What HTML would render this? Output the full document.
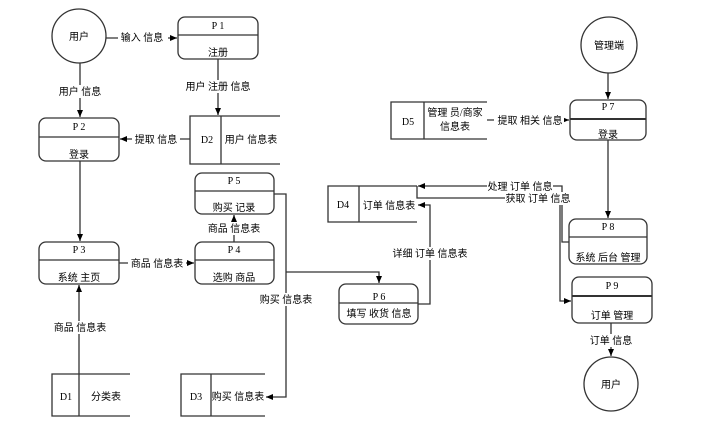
<!DOCTYPE html>
<html><head><meta charset="utf-8"><style>
body{margin:0;background:#fff}
svg text{font-family:"Liberation Serif","Noto Sans CJK SC",serif;font-size:10px;fill:#000}
</style></head><body>
<svg width="719" height="424" viewBox="0 0 719 424" xmlns="http://www.w3.org/2000/svg">
<defs><marker id="a" markerWidth="8" markerHeight="8" refX="7" refY="4" orient="auto" markerUnits="userSpaceOnUse"><path d="M0,1 L7,4 L0,7z" fill="#000"/></marker></defs>
<g fill="none" stroke="#333" stroke-width="1.3">
<circle cx="79" cy="36" r="27"/>
<circle cx="609" cy="45" r="28"/>
<circle cx="611" cy="384" r="27"/>
<!-- processes -->
<rect x="178" y="17" width="80" height="42" rx="7"/><line x1="178" y1="35" x2="258" y2="35"/>
<rect x="39" y="118" width="80" height="43" rx="7"/><line x1="39" y1="137" x2="119" y2="137"/>
<rect x="195" y="173" width="79" height="41" rx="7"/><line x1="195" y1="191" x2="274" y2="191"/>
<rect x="195" y="242" width="79" height="42" rx="7"/><line x1="195" y1="260" x2="274" y2="260"/>
<rect x="39" y="242" width="80" height="42" rx="7"/><line x1="39" y1="260" x2="119" y2="260"/>
<rect x="339" y="284" width="79" height="40" rx="7"/><line x1="339" y1="303" x2="418" y2="303"/>
<rect x="570" y="100" width="76" height="40" rx="7"/><line x1="570" y1="119" x2="646" y2="119" stroke-width="2"/>
<rect x="569" y="219" width="78" height="45" rx="7"/><line x1="569" y1="237" x2="647" y2="237"/>
<rect x="572" y="277" width="80" height="46" rx="7"/><line x1="572" y1="296" x2="652" y2="296" stroke-width="2"/>
<!-- stores -->
<path d="M280,116 H190 V164 H280 M221,116 V164"/>
<path d="M130,374 H52 V416 H130 M79,374 V416"/>
<path d="M265,374 H181 V416 H265 M211,374 V416"/>
<path d="M417,186 H328 V222 H417 M359,186 V222"/>
<path d="M487,102 H391 V139 H487 M424,102 V139"/>
<!-- flows -->
<line x1="106" y1="38" x2="177" y2="38" marker-end="url(#a)"/>
<line x1="80" y1="63" x2="80" y2="117" marker-end="url(#a)"/>
<line x1="218" y1="59" x2="218" y2="115" marker-end="url(#a)"/>
<line x1="190" y1="139" x2="120" y2="139" marker-end="url(#a)"/>
<line x1="80" y1="161" x2="80" y2="241" marker-end="url(#a)"/>
<line x1="119" y1="263" x2="194" y2="263" marker-end="url(#a)"/>
<line x1="234" y1="242" x2="234" y2="215" marker-end="url(#a)"/>
<line x1="79" y1="374" x2="79" y2="285" marker-end="url(#a)"/>
<path d="M274,194 H286 V397 H266" marker-end="url(#a)"/>
<path d="M286,272 H379 V283" marker-end="url(#a)"/>
<path d="M418,304 H430 V205 H418" marker-end="url(#a)"/>
<line x1="487" y1="120" x2="569" y2="120" marker-end="url(#a)"/>
<line x1="608" y1="73" x2="608" y2="99" marker-end="url(#a)"/>
<line x1="608" y1="140" x2="608" y2="218" marker-end="url(#a)"/>
<path d="M569,242 H562 V186 H418" marker-end="url(#a)"/>
<path d="M417,186 V198 H560 V301 H571" marker-end="url(#a)"/>
<line x1="611" y1="323" x2="611" y2="356" marker-end="url(#a)"/>
</g>
<g text-anchor="middle">
<text x="79" y="40" fill="#000">用户</text>
<text x="609" y="49">管理端</text>
<text x="611" y="388">用户</text>
<text x="218" y="29">P 1</text><text x="218" y="56">注册</text>
<text x="79" y="130">P 2</text><text x="79" y="158">登录</text>
<text x="234" y="184">P 5</text><text x="234" y="211">购买 记录</text>
<text x="234" y="253">P 4</text><text x="234" y="281">选购 商品</text>
<text x="79" y="253">P 3</text><text x="79" y="281">系统 主页</text>
<text x="379" y="300">P 6</text><text x="379" y="317">填写 收货 信息</text>
<text x="608" y="110">P 7</text><text x="608" y="138">登录</text>
<text x="608" y="230">P 8</text><text x="608" y="261">系统 后台 管理</text>
<text x="612" y="289">P 9</text><text x="612" y="319">订单 管理</text>
<text x="207" y="143">D2</text><text x="251" y="143">用户 信息表</text>
<text x="66" y="400">D1</text><text x="106" y="400">分类表</text>
<text x="196" y="400">D3</text><text x="238" y="400">购买 信息表</text>
<text x="343" y="208">D4</text><text x="389" y="209">订单 信息表</text>
<text x="408" y="125">D5</text><text x="455" y="116">管理 员/商家</text><text x="455" y="130">信息表</text>
</g>
<g text-anchor="middle">
<rect x="118" y="31" width="50" height="13" fill="#fff"/><text x="142" y="41">输入 信息</text>
<rect x="56" y="85" width="48" height="13" fill="#fff"/><text x="80" y="95">用户 信息</text>
<rect x="185" y="80" width="66" height="13" fill="#fff"/><text x="218" y="90">用户 注册 信息</text>
<rect x="132" y="133" width="48" height="13" fill="#fff"/><text x="156" y="143">提取 信息</text>
<rect x="128" y="257" width="58" height="13" fill="#fff"/><text x="157" y="267">商品 信息表</text>
<rect x="206" y="222" width="56" height="13" fill="#fff"/><text x="234" y="232">商品 信息表</text>
<rect x="52" y="321" width="56" height="13" fill="#fff"/><text x="80" y="331">商品 信息表</text>
<rect x="258" y="293" width="56" height="13" fill="#fff"/><text x="286" y="303">购买 信息表</text>
<rect x="390" y="247" width="80" height="13" fill="#fff"/><text x="430" y="257">详细 订单 信息表</text>
<rect x="494" y="114" width="70" height="13" fill="#fff"/><text x="530" y="124">提取 相关 信息</text>
<rect x="487" y="180" width="66" height="13" fill="#fff"/><text x="520" y="190">处理 订单 信息</text>
<rect x="505" y="192" width="66" height="13" fill="#fff"/><text x="538" y="202">获取 订单 信息</text>
<rect x="588" y="334" width="46" height="13" fill="#fff"/><text x="611" y="344">订单 信息</text>
</g>
</svg>
</body></html>
